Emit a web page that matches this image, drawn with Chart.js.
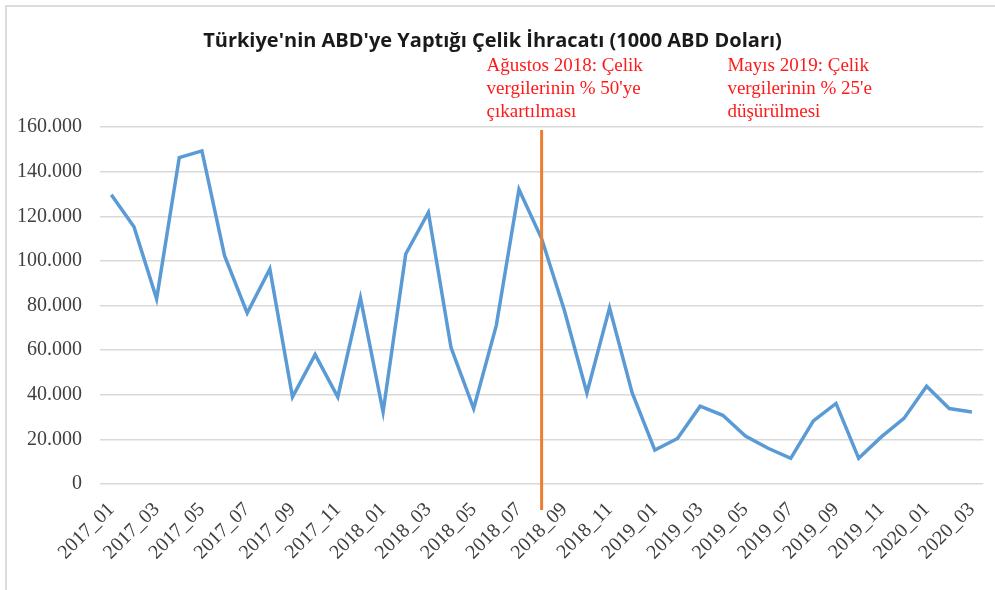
<!DOCTYPE html>
<html>
<head>
<meta charset="utf-8">
<script src="https://cdn.jsdelivr.net/npm/chart.js@4/dist/chart.umd.min.js"></script>
<style>
  html, body { margin: 0; padding: 0; background: #fff; }
  .frame { position: relative; width: 995px; height: 590px; }
  .edge { position: absolute; left: 5px; top: 5px; right: 0; bottom: 0;
          border-left: 2px solid #dcdcdc; border-top: 2px solid #dcdcdc; }
  canvas { position: absolute; left: 0; top: 0; }
</style>
</head>
<body>
<div class="frame">
  <div class="edge"></div>
  <canvas id="chart" width="995" height="590"></canvas>
</div>
<script>
// monthly exports, 1000 USD
const months = [
  '2017_01', '2017_02', '2017_03', '2017_04', '2017_05', '2017_06', '2017_07', '2017_08',
  '2017_09', '2017_10', '2017_11', '2017_12', '2018_01', '2018_02', '2018_03', '2018_04',
  '2018_05', '2018_06', '2018_07', '2018_08', '2018_09', '2018_10', '2018_11', '2018_12',
  '2019_01', '2019_02', '2019_03', '2019_04', '2019_05', '2019_06', '2019_07', '2019_08',
  '2019_09', '2019_10', '2019_11', '2019_12', '2020_01', '2020_02', '2020_03'
];
const exports = [
  129600, 115300, 83000, 146300, 149300, 102300, 76600, 96400,
  39000, 58000, 39000, 83400, 32300, 103100, 121700, 61100,
  33800, 71100, 132000, 110000, 78000, 40800, 79000, 40800,
  15200, 20400, 34900, 30800, 21500, 16000, 11500, 28300,
  36100, 11500, 21100, 29400, 43800, 33800, 32300
];

const titleText = "Türkiye'nin ABD'ye Yaptığı Çelik İhracatı (1000 ABD Doları)";
const notes = [
  { at: '2018_08', lines: ['Ağustos 2018: Çelik', "vergilerinin % 50'ye", 'çıkartılması'], dx: -55 },
  { at: '2019_05', lines: ['Mayıs 2019: Çelik', "vergilerinin % 25'e", 'düşürülmesi'], dx: -18 }
];
const markerMonth = '2018_08';

function dots(v) {
  return String(v).replace(/\B(?=(\d{3})+(?!\d))/g, '.');
}

// orange marker line + red notes
const notesPlugin = {
  id: 'notes',
  afterDatasetsDraw(chart) {
    const ctx = chart.ctx;
    const x = chart.scales.x;
    const area = chart.chartArea;
    ctx.save();
    const mx = x.getPixelForValue(months.indexOf(markerMonth));
    ctx.strokeStyle = '#ED7D31';
    ctx.lineWidth = 3;
    ctx.beginPath();
    ctx.moveTo(mx, area.top + 3);
    ctx.lineTo(mx, area.bottom + 26);
    ctx.stroke();

    ctx.fillStyle = '#FF1A1A';
    ctx.font = '19px "Liberation Serif"';
    ctx.textBaseline = 'middle';
    ctx.textAlign = 'left';
    notes.forEach(n => {
      const nx = x.getPixelForValue(months.indexOf(n.at)) + n.dx;
      n.lines.forEach((t, i) => {
        ctx.fillText(t, nx, area.top - 61 + i * 23);
      });
    });
    ctx.restore();
  }
};

new Chart(document.getElementById('chart'), {
  type: 'line',
  data: {
    labels: months,
    datasets: [{
      data: exports,
      borderColor: '#5B9BD5',
      borderWidth: 3.5,
      pointRadius: 0,
      tension: 0,
      fill: false
    }]
  },
  options: {
    responsive: false,
    animation: false,
    layout: { padding: { left: 0, right: 10, top: 0, bottom: 0 } },
    plugins: {
      legend: { display: false },
      tooltip: { enabled: false },
      title: {
        display: true,
        text: titleText,
        color: '#1a1a1a',
        font: { family: '"Open Sans"', size: 20, weight: 'bold' },
        padding: { top: 29, bottom: 74 }
      }
    },
    scales: {
      x: {
        offset: true,
        grid: { display: false },
        border: { display: false },
        afterFit(scale) { scale.height = 106; },
        ticks: {
          autoSkip: false,
          minRotation: 45,
          maxRotation: 45,
          padding: 6,
          color: '#404040',
          font: { family: '"Liberation Serif"', size: 20 },
          callback(value, index) {
            return index % 2 === 0 ? this.getLabelForValue(value) : '';
          }
        }
      },
      y: {
        min: 0,
        max: 160000,
        border: { display: false },
        grid: { color: '#d9d9d9', lineWidth: 1.5, drawTicks: false },
        afterFit(scale) { scale.width = 100; },
        ticks: {
          stepSize: 20000,
          padding: 18,
          color: '#404040',
          font: { family: '"Liberation Serif"', size: 20 },
          callback: v => dots(v)
        }
      }
    }
  },
  plugins: [notesPlugin]
});
</script>
</body>
</html>
